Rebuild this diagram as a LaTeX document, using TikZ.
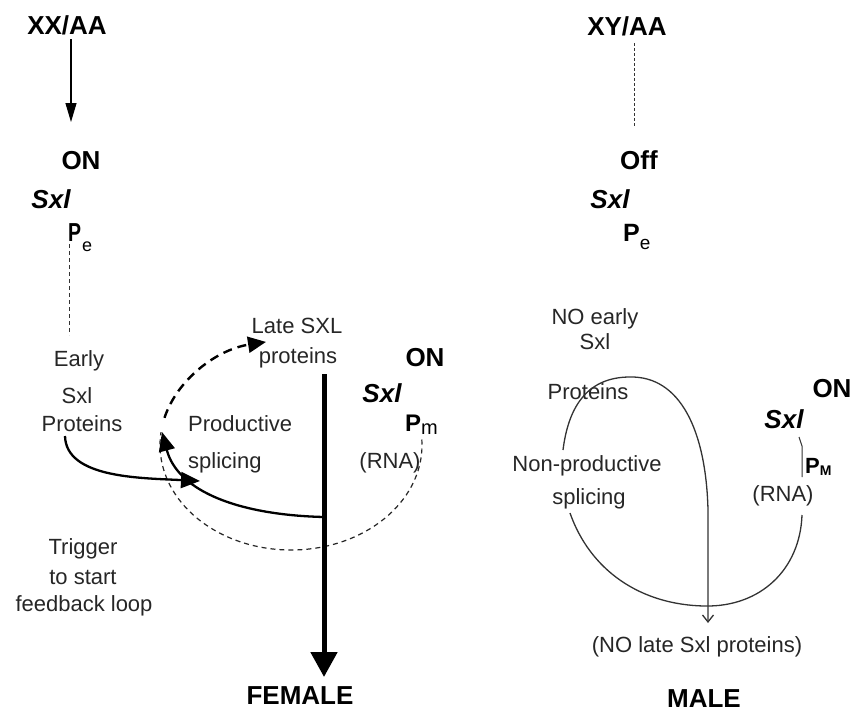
\documentclass[tikz,border=0pt]{standalone}
\usepackage{fontspec}
\setmainfont{Liberation Sans}
\usetikzlibrary{arrows.meta}
\tikzset{
  big/.style={font=\fontsize{26}{30}\selectfont\bfseries, inner sep=0pt, text=black},
  bigit/.style={font=\fontsize{26}{30}\selectfont\bfseries\itshape, inner sep=0pt, text=black},
  txt/.style={font=\fontsize{22}{26}\selectfont, inner sep=0pt, text=black!85},
  pnode/.style={inner sep=0pt, anchor=base west, text=black},
  thindash/.style={line width=1pt, dash pattern=on 4pt off 3pt, black!80},
  loopdash/.style={line width=1.2pt, dash pattern=on 5pt off 4pt, black!85},
  bolddash/.style={line width=2.4pt, dash pattern=on 9pt off 6pt, black, -{Triangle[length=18pt,width=16pt]}},
  boldarr/.style={line width=2.3pt, black, -{Triangle[length=19pt,width=16pt]}},
  thinarr/.style={line width=1.1pt, black, -{Triangle[length=19pt,width=11pt]}},
  fatarr/.style={line width=5pt, black, -{Triangle[length=25pt,width=26pt]}},
  malearr/.style={line width=1.3pt, black!80, -{Straight Barb[length=7pt,width=11pt]}},
  maleline/.style={line width=1.3pt, black!80},
}
\begin{document}
\begin{tikzpicture}[x=1pt,y=-1pt]
\useasboundingbox (0,0) rectangle (854,713);

% ---------------- FEMALE side ----------------
\node[big,anchor=base] (xx) at (67,34) {XX/AA};
\node[big,anchor=base] (on1) at (81,169) {ON};
\node[bigit,anchor=base] (sxl1) at (51,208) {Sxl};
\node[pnode] (pe1) at (68,241) {\fontsize{26}{28}\selectfont\bfseries\scalebox{0.75}[1]{P}\kern1pt\raisebox{-10pt}{\fontsize{18}{18}\mdseries\selectfont e}};

\coordinate (a1s) at (71,39);
\coordinate (a1e) at (71,122);
\draw[thinarr] (a1s) -- (a1e);

\coordinate (d1s) at (69,244);
\coordinate (d1e) at (69,335);
\draw[thindash] (d1s) -- (d1e);

\node[txt,anchor=base] (early) at (79,366) {Early};
\node[txt,anchor=base] (esxl) at (77,403) {Sxl};
\node[txt,anchor=base] (eprot) at (82,431) {Proteins};

\node[txt,anchor=base] (late) at (297,333) {Late SXL};
\node[txt,anchor=base] (lprot) at (298,363) {proteins};

\node[txt,anchor=base west] (prod) at (188,431) {Productive};
\node[txt,anchor=base west] (spl) at (188,468) {splicing};

\node[big,anchor=base] (on2) at (425,366) {ON};
\node[bigit,anchor=base] (sxl2) at (382,402) {Sxl};
\node[pnode] (pm) at (405,431) {\fontsize{24}{26}\selectfont\bfseries P\raisebox{-3pt}{\fontsize{20}{20}\mdseries\selectfont m}};
\node[txt,anchor=base] (rna1) at (390,468) {(RNA)};

\node[txt,anchor=base] (trig1) at (83,554) {Trigger};
\node[txt,anchor=base] (trig2) at (83,584) {to start};
\node[txt,anchor=base] (trig3) at (84,611) {feedback loop};

\node[big,anchor=base] (female) at (300,704) {FEMALE};

% feedback loop ellipse
\coordinate (ec) at (291,445);
\draw[loopdash] (ec) ++(-3:131 and 105) arc[start angle=-3, end angle=187, x radius=131, y radius=105];
\draw[bolddash] (ec) ++(195:131 and 105) arc[start angle=195, end angle=259, x radius=131, y radius=105];

% thick vertical arrow
\coordinate (fs) at (324,374);
\coordinate (fe) at (324,677);
\draw[fatarr] (fs) -- (fe);

% productive splicing arrow
\coordinate (j1) at (324,517);
\coordinate (j1e) at (162,432);
\draw[boldarr] (j1) .. controls (240,515) and (178,492) .. (j1e);

% trigger arrow
\coordinate (t1s) at (65,436);
\coordinate (t1e) at (200,481);
\draw[boldarr] (t1s) .. controls (66,478) and (140,478) .. (t1e);

% ---------------- MALE side ----------------
\node[big,anchor=base] (xy) at (627,35) {XY/AA};
\coordinate (d2s) at (634,43);
\coordinate (d2e) at (634,127);
\draw[line width=1pt, dash pattern=on 3pt off 2pt, black!80] (d2s) -- (d2e);

\node[big,anchor=base] (off) at (639,169) {Off};
\node[bigit,anchor=base] (sxl3) at (610,208) {Sxl};
\node[pnode] (pe2) at (623,241) {\fontsize{25}{27}\selectfont\bfseries P\kern0pt\raisebox{-8pt}{\fontsize{19}{19}\mdseries\selectfont e}};

\node[txt,anchor=base] (noe1) at (595,324) {NO early};
\node[txt,anchor=base] (noe2) at (595,349) {Sxl};
\node[txt,anchor=base] (noe3) at (588,399) {Proteins};

\node[txt,anchor=base] (np1) at (587,471) {Non-productive};
\node[txt,anchor=base] (np2) at (589,504) {splicing};

\node[big,anchor=base] (on3) at (832,397) {ON};
\node[bigit,anchor=base] (sxl4) at (784,428) {Sxl};
\node[pnode] (pM) at (805,473) {\fontsize{22}{24}\selectfont\bfseries P\raisebox{-2pt}{\fontsize{14}{14}\selectfont M}};
\node[txt,anchor=base] (rna2) at (783,501) {(RNA)};

\coordinate (k1) at (799,437);
\coordinate (k2) at (802,446);
\coordinate (k3) at (802,477);
\draw[line width=1pt, black!80] (k1) -- (k2) -- (k3);

% loop of non-productive splicing
\coordinate (m1) at (563,450);
\coordinate (m2) at (630,377);
\coordinate (m3) at (708,510);
\coordinate (m4) at (708,623);
\draw[malearr] (m1) .. controls (568,410) and (585,377) .. (m2)
   .. controls (680,376) and (706,430) .. (m3) -- (m4);

\coordinate (b1) at (570,513);
\coordinate (b2) at (705,606);
\coordinate (b3) at (802,515);
\draw[maleline] (b1) .. controls (590,570) and (640,605) .. (b2)
   .. controls (760,607) and (800,570) .. (b3);

\node[txt,anchor=base] (nolate) at (697,652) {(NO late Sxl proteins)};
\node[big,anchor=base] (male) at (704,707) {MALE};
\end{tikzpicture}
\end{document}
